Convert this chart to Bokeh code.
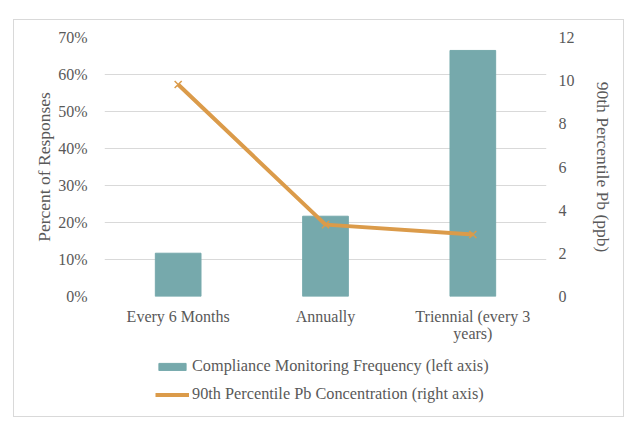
import math
from bokeh.plotting import figure
from bokeh.layouts import column
from bokeh.models import (Range1d, LinearAxis, NumeralTickFormatter, Legend, LegendItem,
                          FixedTicker, ColumnDataSource)
from bokeh.embed import file_html
from bokeh.resources import INLINE

categories = ["Every 6 Months", "Annually", "Triennial (every 3\nyears)"]
pct_responses = [0.117, 0.217, 0.665]
pb_90th = [9.82, 3.33, 2.87]
legend_labels = ["Compliance Monitoring Frequency (left axis)",
                 "90th Percentile Pb Concentration (right axis)"]

FONT = "Liberation Serif"
TXT = "#595959"
BAR = "#76A9AC"
LINE = "#DB9B4A"

src = ColumnDataSource(data=dict(cat=categories, pct=pct_responses, pb=pb_90th))

p = figure(width=609, height=330, x_range=categories, y_range=Range1d(0, 0.7),
           output_backend="svg", toolbar_location=None,
           min_border_left=90, min_border_right=77, min_border_top=17, min_border_bottom=54)
p.outline_line_color = None
p.extra_y_ranges = {"pb": Range1d(0, 12)}

bars = p.vbar(x="cat", top="pct", source=src, width=0.31, color=BAR)
ln = p.line(x="cat", y="pb", source=src, y_range_name="pb", line_color=LINE, line_width=4)
mk = p.scatter(x="cat", y="pb", source=src, y_range_name="pb", marker="x", size=10,
               line_color=LINE, line_width=1.5)

p.yaxis.ticker = FixedTicker(ticks=[0, 0.1, 0.2, 0.3, 0.4, 0.5, 0.6, 0.7])
p.yaxis.formatter = NumeralTickFormatter(format="0%")
p.yaxis.axis_label = "Percent of Responses"

ax2 = LinearAxis(y_range_name="pb", ticker=FixedTicker(ticks=[0, 2, 4, 6, 8, 10, 12]),
                 axis_label="90th Percentile Pb (ppb)")
p.add_layout(ax2, "right")

for ax in [p.yaxis[0], ax2, p.xaxis[0]]:
    ax.axis_line_color = None
    ax.major_tick_line_color = None
    ax.minor_tick_line_color = None
    ax.major_label_text_font = FONT
    ax.major_label_text_font_size = "16px"
    ax.major_label_text_color = TXT
    ax.axis_label_text_font = FONT
    ax.axis_label_text_font_size = "17.5px"
    ax.axis_label_text_color = TXT
    ax.axis_label_text_font_style = "normal"

p.yaxis[0].major_label_standoff = 11
p.yaxis[0].axis_label_standoff = 1
ax2.major_label_standoff = 6
ax2.axis_label_standoff = 15
p.xaxis.major_label_standoff = 5
p.xaxis.major_label_text_line_height = 1.05

p.xgrid.grid_line_color = None
p.ygrid.grid_line_color = "#D9D9D9"
p.ygrid.ticker = FixedTicker(ticks=[0, 0.1, 0.2, 0.3, 0.4, 0.5, 0.6, 0.7])

# legend strip below the chart (its glyph renderers sit outside its visible range)
lg = figure(width=609, height=66, x_range=p.x_range, y_range=Range1d(100, 101),
            output_backend="svg", toolbar_location=None,
            min_border_left=0, min_border_right=0, min_border_top=0, min_border_bottom=0)
lg.axis.visible = False
lg.grid.visible = False
lg.outline_line_color = None
lb = lg.vbar(x="cat", top="pct", source=src, width=0.31, color=BAR)
ll = lg.line(x="cat", y="pb", source=src, line_color=LINE, line_width=4)
lm = lg.scatter(x="cat", y="pb", source=src, marker="x", size=10, line_color=LINE, line_width=1.5)

legend = Legend(items=[
    LegendItem(label=legend_labels[0], renderers=[lb]),
    LegendItem(label=legend_labels[1], renderers=[ll, lm]),
], location=(51, 12), orientation="vertical")
legend.label_text_font = FONT
legend.label_text_font_size = "16.3px"
legend.label_text_color = TXT
legend.border_line_color = None
legend.background_fill_alpha = 0
legend.glyph_width = 34
legend.glyph_height = 9
legend.label_height = 20
legend.spacing = 8
legend.padding = 0
legend.margin = 0
legend.label_standoff = 3
lg.add_layout(legend, "center")

layout = column(p, lg, spacing=0,
                styles={"margin-left": "13px", "margin-top": "19px",
                        "border": "1px solid #D9D9D9"})

open("out.html", "w").write(file_html(layout, INLINE))
